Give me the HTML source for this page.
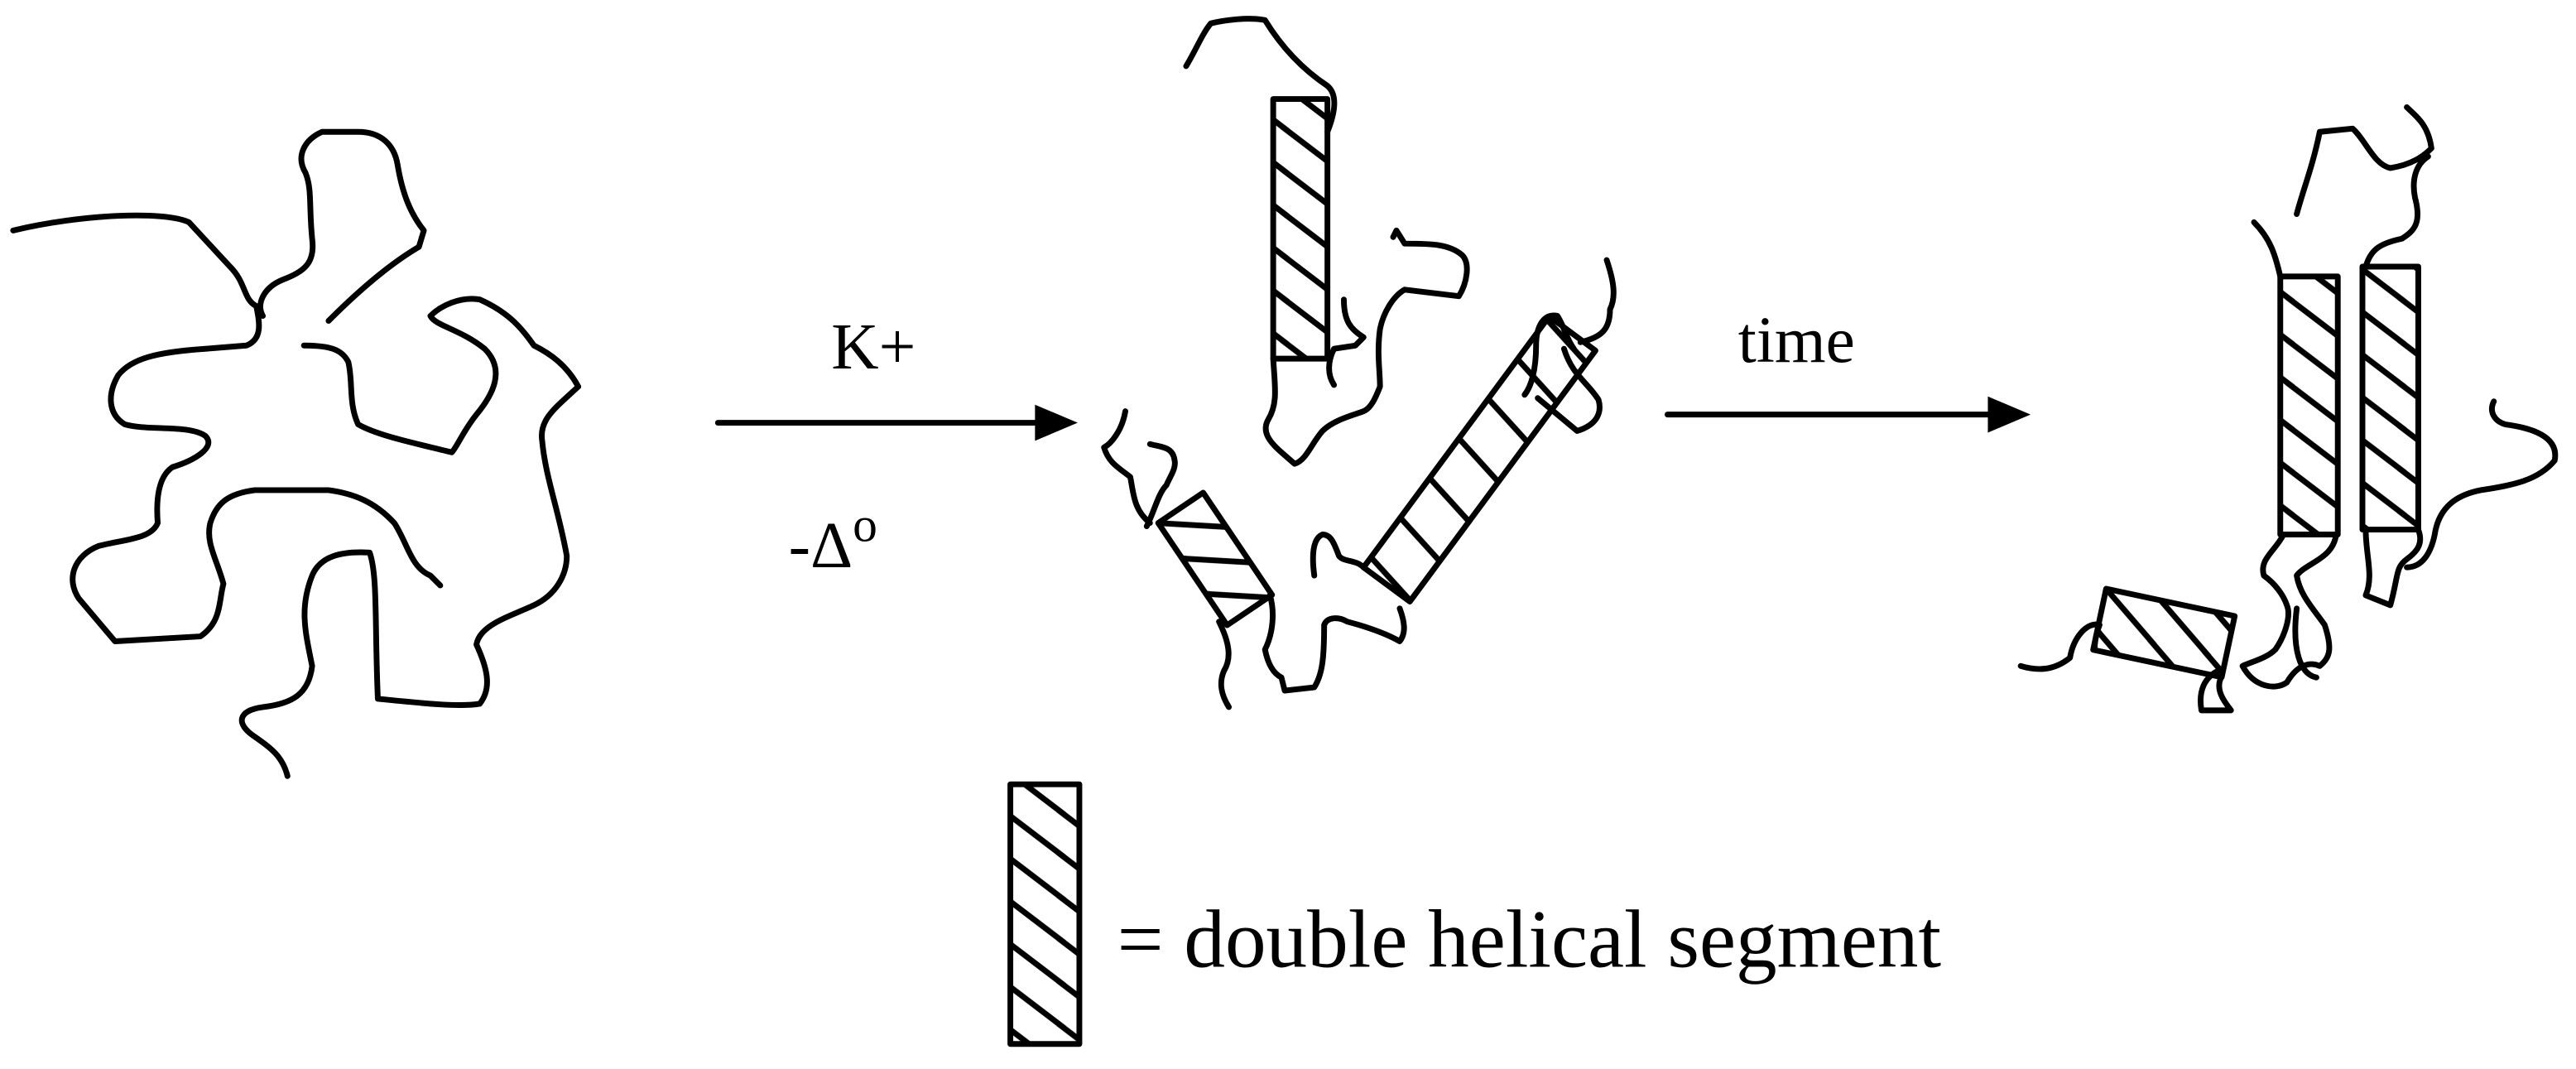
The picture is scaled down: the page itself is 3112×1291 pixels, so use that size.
<!DOCTYPE html>
<html><head><meta charset="utf-8"><style>
html,body{margin:0;padding:0;background:#fff}
svg{display:block}
text{font-family:"Liberation Serif",serif;fill:#000}
</style></head><body>
<svg width="3112" height="1291" viewBox="0 0 1568 650" xmlns="http://www.w3.org/2000/svg">
<defs>
<pattern id="h" width="34" height="26" patternUnits="userSpaceOnUse">
<path d="M-4,-3 L38,29 M-38,-3 L4,29 M30,-3 L72,29" stroke="#000" stroke-width="3.5"/>
</pattern>
<pattern id="v" width="30" height="36" patternUnits="userSpaceOnUse">
<path d="M8,-2 L0,38 M38,-2 L30,38" stroke="#000" stroke-width="3.5"/>
</pattern>
</defs>
<g fill="none" stroke="#000" stroke-width="3.5" stroke-linejoin="round" stroke-linecap="round">
<!-- left coil -->
<path d="M8,140 C50,130 100,128 115,135 L140,162 C150,172 148,182 156,186 C158,196 160,206 150,210 L125,212 C95,214 80,218 72,228 C65,240 66,252 76,258 C90,262 115,258 125,265 C132,272 118,280 105,284 C96,290 95,305 96,318 C92,328 75,328 60,332 C45,338 40,352 48,364 L70,390 L122,387 C135,378 133,366 136,355 C132,340 125,330 128,318 C132,305 140,300 155,298 L200,298 C215,300 228,305 240,318 C248,330 250,345 262,350 L268,356"/>
<path d="M200,195 C220,175 238,160 255,150 L258,140 C250,130 245,118 242,100 C240,88 232,80 218,80 L196,80 C185,85 180,95 186,105 C190,115 188,125 190,145 C192,160 185,165 172,170 C160,175 156,185 160,192"/>
<path d="M175,472 C172,460 165,455 155,448 C143,440 145,432 160,430 C178,428 188,422 190,405 C186,385 182,370 190,350 C195,338 208,335 225,336 C230,350 228,380 230,425 C260,428 280,430 292,428 C300,418 296,405 290,392 C292,380 310,375 325,368 C338,362 345,350 345,338 C340,310 332,290 330,268 C328,255 338,248 352,235 C345,222 335,215 325,210 C318,200 310,190 292,182 C280,180 268,186 262,192 C265,198 280,200 295,212 C308,225 300,240 290,252 C282,262 278,272 275,275 C255,270 230,265 218,258 C212,245 215,232 212,220 C208,212 200,210 185,210"/>
<!-- arrows -->
<path d="M437,257 L632,257"/>
<path d="M1015,252 L1212,252"/>
<!-- middle chains -->
<path d="M722,40 C728,30 732,20 737,14 C745,12 760,10 770,12 C778,25 790,40 808,52 C815,58 812,70 808,80"/>
<path d="M775,218 C776,235 778,245 772,255 C768,262 772,268 780,275 L788,282 C795,280 798,270 805,262 C812,255 825,252 830,250 C835,248 838,240 840,235 C840,225 838,215 840,200 C842,190 848,180 855,176 L888,180 C893,172 895,160 890,155 C882,148 870,148 855,148 L850,140 L848,144 M818,182 C818,195 822,200 830,205 L825,210 L812,212 C808,220 808,228 812,234"/>
<path d="M978,158 C982,170 984,180 980,188 C980,200 975,205 962,208 M958,212 C953,205 952,198 948,192 C940,190 935,198 935,210 C935,225 932,235 928,240"/>
<path d="M936,242 L960,262 C973,258 975,250 973,243 C966,232 957,228 952,212"/>
<path d="M685,250 C683,262 676,270 672,272 C675,282 682,285 688,290 C690,300 690,310 700,318 M698,320 C703,310 705,300 710,295 C712,290 716,285 715,280 C714,272 708,272 700,270"/>
<path d="M742,378 C748,390 750,400 745,408 C742,415 743,422 748,430"/>
<path d="M773,362 C776,372 775,385 770,395 C772,405 776,410 780,412 L782,420 L800,418 C805,410 806,400 806,380 C808,375 815,375 820,378 C835,382 845,386 852,390 C856,385 855,378 852,370"/>
<path d="M830,345 C825,340 818,342 815,338 C812,330 810,325 805,325 C800,327 798,335 800,350"/>
<!-- right chains -->
<path d="M1398,130 C1402,115 1408,100 1412,80 L1432,78 C1440,85 1445,100 1455,102 C1468,100 1475,95 1480,90 C1478,75 1470,70 1465,65 M1388,168 C1385,155 1382,145 1372,135 M1440,162 C1443,152 1448,148 1462,145 C1470,140 1474,135 1470,120 C1468,110 1470,100 1478,95"/>
<path d="M1390,325 C1385,335 1375,340 1378,350 C1385,355 1390,362 1392,368 C1395,375 1390,388 1385,395 C1380,400 1372,402 1365,405 C1372,418 1385,420 1392,415 C1398,405 1405,402 1412,405 C1418,400 1420,395 1415,380 C1408,370 1400,362 1398,350 C1404,342 1420,340 1422,325"/>
<path d="M1440,322 C1440,338 1445,350 1440,362 L1455,368 C1460,350 1458,345 1465,340 C1472,335 1475,330 1472,322 M1465,345 C1475,345 1480,335 1482,325 C1485,305 1500,300 1510,298 C1530,295 1545,292 1555,280 C1558,265 1540,260 1525,258 C1518,256 1515,250 1518,244 M1398,370 C1395,395 1400,410 1410,412"/>
<path d="M1275,395 C1275,390 1276,385 1278,380 C1270,378 1262,388 1260,400 C1250,408 1240,408 1230,405 M1352,412 C1348,420 1355,428 1358,432 L1340,432 C1338,420 1342,412 1350,408"/>
<!-- hatched rects -->
<rect x="775" y="60" width="33" height="158" fill="url(#h)"/>
<g transform="translate(830,345) rotate(-53.5)">
<rect x="0" y="0" width="190" height="35" fill="url(#v)"/>
</g>
<g transform="translate(705,318) rotate(-34)">
<rect x="0" y="0" width="33" height="75" fill="url(#h)"/>
</g>
<rect x="1388" y="168" width="35" height="157" fill="url(#h)"/>
<rect x="1438" y="162" width="34" height="160" fill="url(#h)"/>
<g transform="translate(1282,358) rotate(12)">
<rect x="0" y="0" width="80" height="38" fill="url(#h)"/>
</g>
<rect x="615" y="477" width="42" height="158" fill="url(#h)"/>
</g>
<path d="M630,246 L656,257 L630,268 Z" fill="#000"/>
<path d="M1210,241 L1236,252 L1210,263 Z" fill="#000"/>
<text x="506" y="224" font-size="40">K+</text>
<text x="480" y="345" font-size="40">-Δ<tspan font-size="30" dy="-16">o</tspan></text>
<text x="1058" y="220" font-size="40">time</text>
<text x="680" y="588" font-size="50">= double helical segment</text>
</svg>
</body></html>
